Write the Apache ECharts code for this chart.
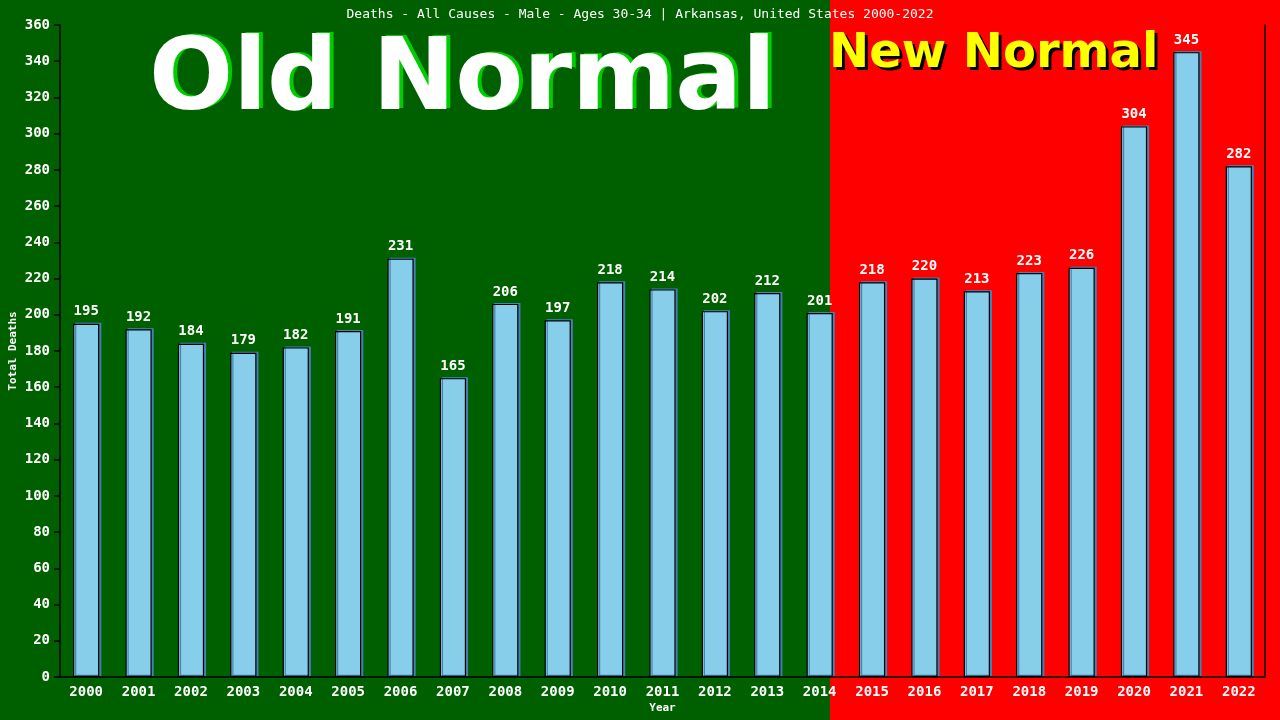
<!DOCTYPE html>
<html><head><meta charset="utf-8">
<script src="https://cdn.jsdelivr.net/npm/echarts@6/dist/echarts.min.js"></script>
<style>html,body{margin:0;padding:0;background:#006000;}#c{width:1280px;height:720px;}</style>
</head><body><div id="c"></div>
<script>
const years = ['2000','2001','2002','2003','2004','2005','2006','2007','2008','2009','2010','2011','2012','2013','2014','2015','2016','2017','2018','2019','2020','2021','2022'];
const deaths = [195,192,184,179,182,191,231,165,206,197,218,214,202,212,201,218,220,213,223,226,304,345,282];
const titleText = 'Deaths - All Causes - Male - Ages 30-34 | Arkansas, United States 2000-2022';
const mono = '"DejaVu Sans Mono", "Liberation Mono", monospace';
const chart = echarts.init(document.getElementById('c'));
chart.setOption({
  animation: false,
  backgroundColor: '#006000',
  graphic: [
    {type:'rect', z:-10, shape:{x:0,y:0,width:830,height:720}, style:{fill:'#006000'}},
    {type:'rect', z:-10, shape:{x:830,y:0,width:450,height:720}, style:{fill:'#ff0000'}},
    {type:'text', z:-5, left:153, top:33, style:{text:'Old Normal', font:'bold 99px "DejaVu Sans", Verdana, sans-serif', fill:'#00cc00'}},
    {type:'text', z:-4, left:149, top:34, style:{text:'Old Normal', font:'bold 99px "DejaVu Sans", Verdana, sans-serif', fill:'#ffffff'}},
    {type:'text', z:-5, left:832, top:34, style:{text:'New Normal', font:'bold 48px "DejaVu Sans", Verdana, sans-serif', fill:'#000000'}},
    {type:'text', z:-4, left:829, top:31, style:{text:'New Normal', font:'bold 48px "DejaVu Sans", Verdana, sans-serif', fill:'#ffff00'}}
  ],
  title: {text: titleText, left: 'center', top: 3, textStyle:{color:'#fff', fontFamily:mono, fontSize:13, fontWeight:'normal'}},
  grid: {left:60, right:15, top:25, bottom:43, containLabel:false, outerBoundsMode:'none'},
  xAxis: {
    type:'category', data: years, name:'Year', nameLocation:'middle', nameGap:26, nameMoveOverlap:false,
    nameTextStyle:{color:'#fff', fontFamily:mono, fontSize:11, fontWeight:'bold'},
    axisLine:{lineStyle:{color:'#000', width:1.5}}, axisTick:{show:false},
    axisLabel:{color:'#fff', fontFamily:mono, fontSize:14, fontWeight:'bold', margin:8}
  },
  yAxis: [{
    type:'value', min:0, max:360, interval:20, name:'Total Deaths', nameLocation:'middle', nameGap:41, nameMoveOverlap:false,
    nameTextStyle:{color:'#fff', fontFamily:mono, fontSize:11, fontWeight:'bold'},
    axisLine:{show:true, lineStyle:{color:'#000', width:1.5}},
    axisTick:{show:true, length:6, lineStyle:{color:'#000', width:1.5}},
    splitLine:{show:false},
    axisLabel:{color:'#fff', fontFamily:mono, fontSize:14, fontWeight:'bold', margin:10}
  },{
    type:'value', min:0, max:360, interval:20, position:'right',
    axisLine:{show:true, lineStyle:{color:'#000', width:1.5}},
    axisTick:{show:false}, axisLabel:{show:false}, splitLine:{show:false}
  }],
  series: [{
    type:'bar', data: deaths, barWidth:'50%',
    itemStyle:{color:'#87ceeb', borderColor:'#000', borderWidth:1.2, shadowColor:'#4682b4', shadowOffsetX:2, shadowOffsetY:-1, shadowBlur:0},
    label:{show:true, position:'top', distance:5, color:'#fff', fontFamily:mono, fontSize:14, fontWeight:'bold'}
  }]
});
</script></body></html>
